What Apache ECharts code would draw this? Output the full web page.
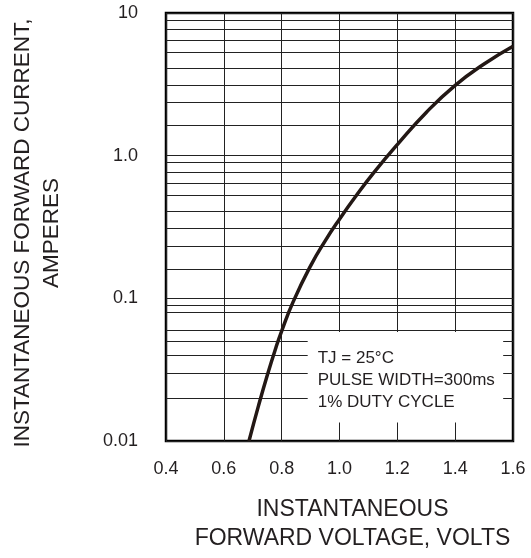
<!DOCTYPE html>
<html>
<head>
<meta charset="utf-8">
<script src="https://cdn.jsdelivr.net/npm/echarts@6/dist/echarts.min.js"></script>
<style>
html,body{margin:0;padding:0;background:#fff;}
#chart{width:531px;height:558px;}
</style>
</head>
<body>
<div id="chart"></div>
<script>
// Forward voltage (V) vs. instantaneous forward current (A)
const voltage = [0.687, 0.72, 0.75, 0.78, 0.80, 0.84, 0.90, 0.95, 1.00, 1.06, 1.12, 1.20, 1.30, 1.40, 1.50, 1.60];
const current = [0.0100, 0.0177, 0.0288, 0.0451, 0.0590, 0.0948, 0.169, 0.252, 0.359, 0.532, 0.767, 1.197, 2.01, 3.11, 4.39, 5.85];

// Minor horizontal grid lines as drawn in the picture (per decade multipliers)
const gridMultipliers = [1.64, 2.35, 3.1, 4.1, 5.3, 6.4, 7.7, 8.95];
const gridDecades = [0.01, 0.1, 1];

const xTickLabels = ['0.4', '0.6', '0.8', '1.0', '1.2', '1.4', '1.6'];
const yTickLabels = ['0.01', '0.1', '1.0', '10'];

// Note box corners (data coords)
const boxX = [0.89, 1.566];
const boxY = [0.0135, 0.058];
const noteLines = ['TJ = 25°C', 'PULSE WIDTH=300ms', '1% DUTY CYCLE'];

const xName = 'INSTANTANEOUS\nFORWARD VOLTAGE, VOLTS';
const yName = 'INSTANTANEOUS FORWARD CURRENT,\nAMPERES';

const gridValues = [];
gridDecades.forEach(d => gridMultipliers.forEach(m => gridValues.push(+(d * m).toPrecision(4))));

const textColor = '#231f20';
const font = 'Liberation Sans, Arial, Helvetica, sans-serif';

const chart = echarts.init(document.getElementById('chart'));
chart.setOption({
  animation: false,
  backgroundColor: '#fff',
  grid: {
    left: 163, right: 18, top: 13, bottom: 109,
    show: true, borderColor: '#000', borderWidth: 2.5, backgroundColor: 'transparent'
  },
  xAxis: {
    type: 'value', min: 0.4, max: 1.6, interval: 0.2,
    axisLine: { show: false },
    axisTick: { show: false },
    splitLine: { show: true, lineStyle: { color: '#222', width: 1 } },
    axisLabel: {
      margin: 19, fontSize: 18, color: textColor, fontFamily: font,
      formatter: v => xTickLabels[Math.round((v - 0.4) / 0.2)]
    },
    name: xName, nameLocation: 'middle', nameGap: 54,
    nameTextStyle: { fontSize: 23, lineHeight: 29, color: textColor, fontFamily: font, padding: [0, 0, 0, 26] }
  },
  yAxis: {
    type: 'log', logBase: 10, min: 0.01, max: 10,
    axisLine: { show: false },
    axisTick: { show: false },
    splitLine: { show: true, lineStyle: { color: '#222', width: 1 } },
    axisLabel: {
      margin: 28, fontSize: 18, color: textColor, fontFamily: font,
      formatter: v => yTickLabels[Math.round(Math.log10(v)) + 2]
    },
    name: yName, nameLocation: 'middle', nameGap: 100, nameRotate: 90,
    nameTextStyle: { fontSize: 22.5, lineHeight: 29, color: textColor, fontFamily: font, padding: [0, 12, 0, 0] }
  },
  series: [
    {
      type: 'line', data: [], z: 1, silent: true,
      markLine: {
        z: 1, silent: true, symbol: 'none', animation: false,
        label: { show: false },
        lineStyle: { color: '#222', width: 1, type: 'solid' },
        data: gridValues.map(v => ({ yAxis: v }))
      }
    },
    {
      type: 'line', data: [], z: 2, silent: true,
      markArea: {
        z: 2, silent: true, animation: false,
        itemStyle: { color: '#fff' },
        label: {
          show: true, position: 'insideLeft', distance: 10, offset: [0, 3],
          fontSize: 17, lineHeight: 21.7, color: textColor, fontFamily: font,
          formatter: noteLines.join('\n')
        },
        data: [[{ xAxis: boxX[0], yAxis: boxY[0] }, { xAxis: boxX[1], yAxis: boxY[1] }]]
      }
    },
    {
      type: 'line', z: 5, smooth: 0.5, showSymbol: false, silent: true,
      lineStyle: { color: '#231815', width: 3.5 },
      data: voltage.map((v, i) => [v, current[i]])
    }
  ]
});
</script>
</body>
</html>
